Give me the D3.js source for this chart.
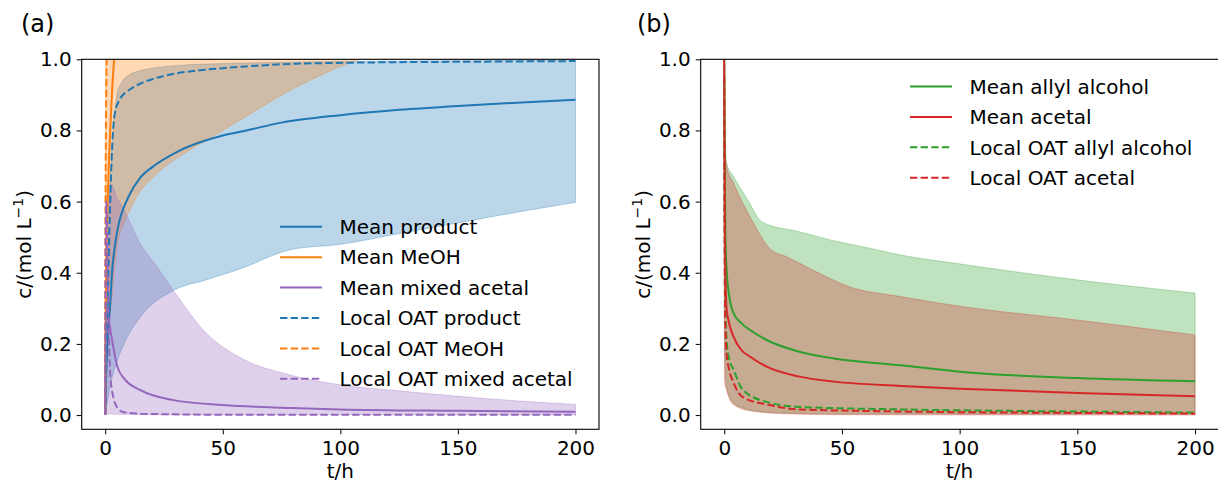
<!DOCTYPE html>
<html><head><meta charset="utf-8">
<script src="https://cdn.jsdelivr.net/npm/d3@7"></script>
<style>
html,body{margin:0;padding:0;background:#fff;}
svg text{font-family:"DejaVu Sans",sans-serif;fill:#000;}
</style></head>
<body><svg id="c" width="1218" height="482"></svg>
<script>
// ---------------- DATA ----------------
const xTicks = [0, 50, 100, 150, 200];
const yTicks = [0.0, 0.2, 0.4, 0.6, 0.8, 1.0];

// Panel (a)
const tProdMean = [0, 0.2, 0.5, 1, 2, 3, 4, 6, 8, 10, 15, 20, 30, 40, 50, 60, 75, 100, 125, 150, 175, 200];
const meanProduct = [0, 0.06, 0.13, 0.2, 0.3, 0.41, 0.47, 0.545, 0.585, 0.615, 0.668, 0.697, 0.738, 0.766, 0.786, 0.80, 0.822, 0.843, 0.858, 0.869, 0.878, 0.886];
const tProdLocal = [0, 0.2, 0.5, 1, 2, 3, 4, 6, 8, 10, 15, 20, 30, 40, 50, 60, 75, 100, 125, 150, 175, 200];
const localProduct = [0, 0.06, 0.15, 0.3, 0.57, 0.76, 0.845, 0.885, 0.903, 0.913, 0.932, 0.944, 0.96, 0.969, 0.975, 0.98, 0.986, 0.99, 0.992, 0.993, 0.994, 0.995];
const tProdBand = [0, 0.5, 1, 2, 3, 4, 5, 7, 10, 15, 30, 50, 80, 120, 200];
const prodHi = [0, 0.35, 0.5, 0.65, 0.77, 0.85, 0.9, 0.935, 0.955, 0.968, 0.982, 0.988, 0.992, 0.995, 0.997];
const tProdBandLo = [0, 1, 2.4, 5, 8, 15, 29, 43, 57, 79, 100, 125, 150, 175, 200];
const prodLo = [0, 0.04, 0.09, 0.15, 0.2, 0.276, 0.35, 0.38, 0.41, 0.465, 0.48, 0.51, 0.54, 0.57, 0.598];

const tMeOHMean = [0, 0.1, 0.3, 0.6, 1, 1.7, 2.4, 3, 3.8, 5];
const meanMeOH = [0, 0.2, 0.37, 0.5, 0.6, 0.73, 0.84, 0.92, 1.0, 1.1];
const tMeOHLocal = [0, 0.05, 0.15, 0.3, 0.5, 0.7];
const localMeOH = [0, 0.3, 0.6, 0.8, 0.95, 1.05];
const tMeOHBand = [0, 0.3, 1, 2.4, 5, 8, 10, 15, 20.5, 30, 36, 50, 60, 79, 90, 100, 110, 150, 200];
const meohLo = [0, 0.12, 0.22, 0.3, 0.47, 0.54, 0.57, 0.63, 0.67, 0.72, 0.745, 0.8, 0.84, 0.914, 0.95, 0.98, 1.0, 1.0, 1.0];
const meohHi = [0, 1.0, 1.0, 1.0, 1.0, 1.0, 1.0, 1.0, 1.0, 1.0, 1.0, 1.0, 1.0, 1.0, 1.0, 1.0, 1.0, 1.0, 1.0];

const tAcetMean = [0, 0.2, 0.5, 1, 2.4, 5.2, 8, 15, 29, 50, 79, 100, 150, 200];
const meanMixedAcetal = [0, 0.2, 0.3, 0.29, 0.23, 0.136, 0.103, 0.07, 0.042, 0.028, 0.02, 0.016, 0.012, 0.009];
const tAcetLocal = [0, 0.2, 0.5, 1, 2.4, 5.2, 8, 15, 30, 50, 100, 200];
const localMixedAcetal = [0, 0.5, 0.6, 0.4, 0.09, 0.02, 0.008, 0.004, 0.002, 0.001, 0.001, 0.001];
const tAcetBand = [0, 0.3, 1, 2.4, 5, 8, 15, 22, 29, 43, 57, 79, 100, 125, 150, 175, 200];
const acetHi = [0, 0.45, 0.62, 0.65, 0.61, 0.576, 0.48, 0.417, 0.35, 0.23, 0.163, 0.112, 0.085, 0.068, 0.053, 0.04, 0.03];
const acetLo = [0, 0.004, 0.004, 0.003, 0.002, 0.002, 0.001, 0.001, 0.001, 0.001, 0.001, 0.001, 0.001, 0.001, 0.001, 0.001, 0.001];

// Panel (b)
const tAllylMean = [0, 0.2, 0.5, 1, 2, 4, 7, 11, 18, 32, 46.6, 75, 100, 150, 200];
const meanAllyl = [1.0, 0.7, 0.5, 0.41, 0.34, 0.286, 0.26, 0.239, 0.211, 0.178, 0.159, 0.14, 0.122, 0.104, 0.095];
const tAcetalMean = [0, 0.2, 0.5, 1, 2, 4, 7, 11, 18, 32, 46.6, 75, 100, 150, 200];
const meanAcetal = [1.0, 0.6, 0.4, 0.3, 0.26, 0.22, 0.185, 0.164, 0.136, 0.108, 0.094, 0.082, 0.074, 0.062, 0.053];
const tLocalB = [0, 0.2, 0.5, 1, 2, 4, 8, 18, 32, 75, 150, 200];
const localAllyl = [0.95, 0.5, 0.3, 0.21, 0.16, 0.127, 0.07, 0.037, 0.023, 0.016, 0.01, 0.007];
const localAcetal = [0.95, 0.45, 0.25, 0.17, 0.13, 0.09, 0.05, 0.03, 0.016, 0.01, 0.006, 0.004];
const tAllylBandHi = [0, 0.3, 1, 4, 10, 16, 32, 46.6, 61, 75, 100, 150, 200];
const allylHi = [1.0, 0.78, 0.708, 0.67, 0.605, 0.543, 0.515, 0.49, 0.47, 0.45, 0.425, 0.38, 0.343];
const tAllylBandLo = [0, 0.3, 1, 2, 4, 8, 15, 30, 60, 200];
const allylLo = [0.32, 0.15, 0.08, 0.055, 0.033, 0.02, 0.01, 0.005, 0.003, 0.003];
const tAcetalBandHi = [0, 0.3, 1, 4, 11, 20, 26.5, 39, 53.5, 75, 100, 150, 200];
const acetalHi = [1.0, 0.78, 0.7, 0.651, 0.557, 0.464, 0.445, 0.403, 0.36, 0.333, 0.306, 0.267, 0.225];
const tAcetalBandLo = [0, 0.2, 1, 2.5, 5, 11, 25, 50, 200];
const acetalLo = [0.3, 0.09, 0.07, 0.042, 0.025, 0.012, 0.004, 0.001, 0.0];

const legendA = ["Mean product", "Mean MeOH", "Mean mixed acetal", "Local OAT product", "Local OAT MeOH", "Local OAT mixed acetal"];
const legendB = ["Mean allyl alcohol", "Mean acetal", "Local OAT allyl alcohol", "Local OAT acetal"];

// ---------------- DRAW ----------------
const C = {blue:"#1f77b4", orange:"#ff7f0e", purple:"#9467bd", green:"#2ca02c", red:"#d62728"};
const DASH = "7.4,3.2";
const svg = d3.select("#c");
const zip = (t, v) => t.map((d, i) => [d, v[i]]);

function panel(opt) {
  const x = d3.scaleLinear().domain([-10, 210]).range([opt.x0, opt.x1]);
  const y = d3.scaleLinear().domain([-0.04, 1.0]).range([429.3, 59.3]);
  const g = svg.append("g");
  const cid = "clip" + opt.id;
  svg.append("clipPath").attr("id", cid).append("rect")
    .attr("x", opt.x0).attr("y", 59.3).attr("width", opt.x1 - opt.x0).attr("height", 429.3 - 59.3);
  const plot = g.append("g").attr("clip-path", `url(#${cid})`);
  const lineGen = d3.line().x(d => x(d[0])).y(d => y(d[1])).curve(d3.curveMonotoneX);

  const area = (tl, lo, th, hi, col) => {
    // sample both monotone edges, then join them into one closed polygon
    const tmp1 = plot.append("path").attr("d", lineGen(zip(th, hi))).attr("fill", "none");
    const tmp2 = plot.append("path").attr("d", lineGen(zip(tl, lo))).attr("fill", "none");
    const n1 = tmp1.node(), n2 = tmp2.node();
    const L1 = n1.getTotalLength(), L2 = n2.getTotalLength();
    const pts = [];
    for (let i = 0; i <= 600; i++) { const p = n1.getPointAtLength(L1 * i / 600); pts.push([p.x, p.y]); }
    for (let i = 600; i >= 0; i--) { const p = n2.getPointAtLength(L2 * i / 600); pts.push([p.x, p.y]); }
    tmp1.remove(); tmp2.remove();
    plot.append("path").attr("d", "M" + pts.map(p => p.join(",")).join("L") + "Z")
      .attr("fill", col).attr("fill-opacity", 0.3)
      .attr("stroke", col).attr("stroke-opacity", 0.3).attr("stroke-width", 1);
  };
  const line = (t, v, col, dashed) => {
    plot.append("path").attr("d", lineGen(zip(t, v)))
      .attr("fill", "none").attr("stroke", col).attr("stroke-width", 2)
      .attr("stroke-dasharray", dashed ? DASH : null);
  };
  opt.draw(area, line);

  // axes
  const ax = g.append("g").attr("transform", "translate(0,429.3)")
    .call(d3.axisBottom(x).tickValues(xTicks).tickSize(5).tickSizeOuter(0).tickPadding(6.5).tickFormat(d3.format("d")));
  const ay = g.append("g").attr("transform", `translate(${opt.x0},0)`)
    .call(d3.axisLeft(y).tickValues(yTicks).tickSize(5).tickSizeOuter(0).tickPadding(5).tickFormat(d3.format(".1f")));
  [ax, ay].forEach(a => {
    a.select(".domain").remove();
    a.selectAll("text").style("font-size", "20px").style("font-family", "DejaVu Sans");
    a.selectAll("line").attr("stroke", "#000").attr("stroke-width", 1);
  });
  g.append("rect").attr("x", opt.x0).attr("y", 59.3).attr("width", opt.x1 - opt.x0).attr("height", 429.3 - 59.3)
    .attr("fill", "none").attr("stroke", "#000").attr("stroke-width", 1.1);

  g.append("text").attr("x", (opt.x0 + opt.x1) / 2).attr("y", 478).attr("text-anchor", "middle")
    .style("font-size", "20px").text("t/h");
  const yl = g.append("text").attr("transform", `translate(${opt.ylx},244.3) rotate(-90)`)
    .attr("text-anchor", "middle").style("font-size", "20px");
  yl.append("tspan").text("c/(mol L");
  yl.append("tspan").attr("dy", -8).style("font-size", "14px").text("−1");
  yl.append("tspan").attr("dy", 8).style("font-size", "20px").text(")");
  g.append("text").attr("x", opt.lx).attr("y", 32).style("font-size", "24px").text(opt.label);

  // legend
  const lg = g.append("g");
  opt.legend.forEach((name, i) => {
    const yy = opt.legY + i * 30.4;
    const s = opt.legStyle[i];
    lg.append("line").attr("x1", opt.legX).attr("x2", opt.legX + 42).attr("y1", yy).attr("y2", yy)
      .attr("stroke", s[0]).attr("stroke-width", 2).attr("stroke-dasharray", s[1] ? DASH : null);
    lg.append("text").attr("x", opt.legX + 59.5).attr("y", yy).attr("dy", "0.36em")
      .style("font-size", "20px").text(name);
  });
}

panel({
  id: "A", x0: 81.7, x1: 599, ylx: 30.5, lx: 21, label: "(a)",
  legend: legendA, legX: 280, legY: 226.8,
  legStyle: [[C.blue,false],[C.orange,false],[C.purple,false],[C.blue,true],[C.orange,true],[C.purple,true]],
  draw: (area, line) => {
    area(tProdBandLo, prodLo, tProdBand, prodHi, C.blue);
    area(tMeOHBand, meohLo, tMeOHBand, meohHi, C.orange);
    area(tAcetBand, acetLo, tAcetBand, acetHi, C.purple);
    line(tProdMean, meanProduct, C.blue, false);
    line(tMeOHMean, meanMeOH, C.orange, false);
    line(tAcetMean, meanMixedAcetal, C.purple, false);
    line(tProdLocal, localProduct, C.blue, true);
    line(tMeOHLocal, localMeOH, C.orange, true);
    line(tAcetLocal, localMixedAcetal, C.purple, true);
  }
});

panel({
  id: "B", x0: 700.7, x1: 1218.6, ylx: 650, lx: 637, label: "(b)",
  legend: legendB, legX: 910, legY: 86.5,
  legStyle: [[C.green,false],[C.red,false],[C.green,true],[C.red,true]],
  draw: (area, line) => {
    area(tAllylBandLo, allylLo, tAllylBandHi, allylHi, C.green);
    area(tAcetalBandLo, acetalLo, tAcetalBandHi, acetalHi, C.red);
    line(tAllylMean, meanAllyl, C.green, false);
    line(tAcetalMean, meanAcetal, C.red, false);
    line(tLocalB, localAllyl, C.green, true);
    line(tLocalB, localAcetal, C.red, true);
  }
});
</script></body></html>
